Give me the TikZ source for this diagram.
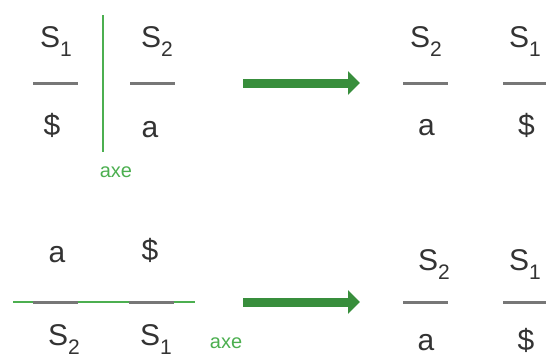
\documentclass[tikz,border=0pt]{standalone}
\usepackage{fontspec}
\setmainfont{Liberation Sans}
\usetikzlibrary{arrows.meta}
\definecolor{txt}{HTML}{333333}
\definecolor{barc}{HTML}{777777}
\definecolor{axc}{HTML}{4CAF50}
\definecolor{arc}{HTML}{388E3C}
\newcommand{\Ssub}[1]{S\raisebox{-9pt}{\fontsize{21}{21}\selectfont #1}}
\begin{document}
\begin{tikzpicture}[x=1pt,y=-1pt,
  lbl/.style={font=\fontsize{30}{34}\selectfont, text=txt, inner sep=0pt, anchor=base},
  barnode/.style={fill=barc, draw=none, minimum width=45pt, minimum height=3pt, inner sep=0pt},
  vaxis/.style={fill=axc, draw=none, minimum width=2pt, inner sep=0pt},
  haxis/.style={fill=axc, draw=none, minimum height=2pt, inner sep=0pt},
  axelbl/.style={font=\fontsize{20}{24}\selectfont, text=axc, inner sep=0pt},
  bigarrow/.style={draw=arc, line width=9pt, -{Triangle[width=23pt,length=12pt]}}
]
\useasboundingbox (0,0) rectangle (546,356);
% ---- top left
\node[lbl] (tlS1) at (56,47) {\Ssub{1}};
\node[barnode] (tlb1) at (55.5,83) {};
\node[lbl] (tlD) at (52,135) {\$};
\node[vaxis, minimum height=137pt] (tlax) at (103,83.5) {};
\node[lbl] (tlS2) at (157,47) {\Ssub{2}};
\node[barnode] (tlb2) at (152.5,83) {};
\node[lbl] (tlA) at (150,137) {a};
\node[axelbl] (tlaxe) at (116,172) {axe};
% top arrow
\coordinate (ta1) at (243,83);
\coordinate (ta2) at (360,83);
\draw[bigarrow] (ta1) -- (ta2);
% ---- top right
\node[lbl] (trS2) at (426,47) {\Ssub{2}};
\node[barnode] (trb1) at (425.5,83) {};
\node[lbl] (trA) at (426.5,135) {a};
\node[lbl] (trS1) at (525,47) {\Ssub{1}};
\node[barnode] (trb2) at (525.5,83) {};
\node[lbl] (trD) at (526.5,135) {\$};
% ---- bottom left
\node[lbl] (blA) at (57,262) {a};
\node[lbl] (blD) at (150,260) {\$};
\node[haxis, minimum width=182pt] (blax) at (104,302) {};
\node[barnode] (blb1) at (55.5,302) {};
\node[barnode] (blb2) at (151.5,302) {};
\node[lbl] (blS2) at (64,345) {\Ssub{2}};
\node[lbl] (blS1) at (156,345) {\Ssub{1}};
\node[axelbl] (blaxe) at (226,343) {axe};
% bottom arrow
\coordinate (ba1) at (243,302);
\coordinate (ba2) at (360,302);
\draw[bigarrow] (ba1) -- (ba2);
% ---- bottom right
\node[lbl] (brS2) at (434,270) {\Ssub{2}};
\node[barnode] (brb1) at (425.5,302) {};
\node[lbl] (brA) at (426,350) {a};
\node[lbl] (brS1) at (525,270) {\Ssub{1}};
\node[barnode] (brb2) at (525.5,302) {};
\node[lbl] (brD) at (526,350) {\$};
\end{tikzpicture}
\end{document}
